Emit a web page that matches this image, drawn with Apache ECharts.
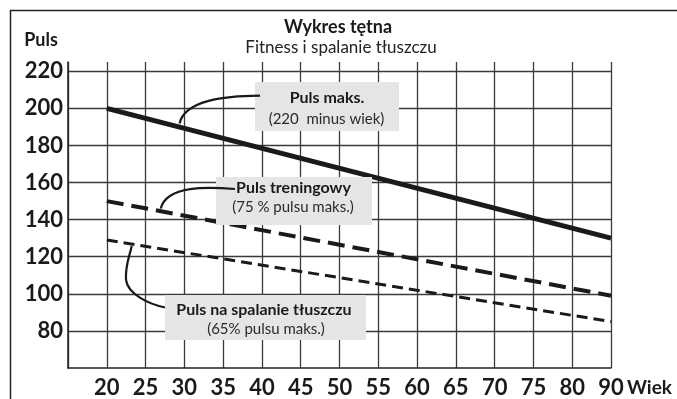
<!DOCTYPE html>
<html>
<head>
<meta charset="utf-8">
<title>Wykres tętna</title>
<script src="https://cdn.jsdelivr.net/npm/echarts@6/dist/echarts.min.js"></script>
<style>
  html, body { margin: 0; padding: 0; background: #ffffff; }
  #chart { width: 677px; height: 399px; }
</style>
</head>
<body>
<div id="chart"></div>
<script>
// Age categories along the x axis (first slot is the empty left edge of the grid)
const ages = ['', '20', '25', '30', '35', '40', '45', '50', '55', '60', '65', '70', '75', '80', '90'];

// Heart rate lines: only the end points are known, the lines run straight between them
const maxPulse      = [null, 200, null, null, null, null, null, null, null, null, null, null, null, null, 130];
const trainingPulse = [null, 150, null, null, null, null, null, null, null, null, null, null, null, null, 99];
const fatBurnPulse  = [null, 129, null, null, null, null, null, null, null, null, null, null, null, null, 85];

// Pulse axis tick values
const pulseMin = 60;
const pulseMax = 225;
const pulseStep = 20;

const FONT = 'Lato';
const INK = '#1a1a1a';
const BOX = '#e5e5e7';

const chart = echarts.init(document.getElementById('chart'), null, { renderer: 'canvas' });

function boxText(x, y, text, bold, size) {
  return {
    type: 'text', x: x, y: y, z: 20,
    style: {
      text: text, fill: bold ? INK : '#2a2a2a',
      font: (bold ? 'bold ' : '') + size + 'px ' + FONT,
      align: 'center', verticalAlign: 'middle'
    }
  };
}
function leader(x1, y1, cx1, cy1, cx2, cy2, x2, y2) {
  return {
    type: 'bezierCurve', z: 18,
    shape: { x1: x1, y1: y1, cpx1: cx1, cpy1: cy1, cpx2: cx2, cpy2: cy2, x2: x2, y2: y2 },
    style: { stroke: INK, lineWidth: 2.2, fill: null }
  };
}

const option = {
  backgroundColor: '#ffffff',
  animation: false,
  grid: { left: 68, right: 66, top: 62, bottom: 29, containLabel: false },
  xAxis: {
    type: 'category',
    data: ages,
    boundaryGap: false,
    axisLine: { show: true, lineStyle: { color: '#222', width: 1.5 } },
    axisTick: { show: false },
    axisLabel: {
      interval: 0, margin: 9,
      color: INK, fontFamily: FONT, fontWeight: 'bold', fontSize: 22
    },
    splitLine: { show: true, interval: 0, lineStyle: { color: '#3a3a3a', width: 1.3 } }
  },
  yAxis: {
    type: 'value',
    min: pulseMin, max: pulseMax, interval: pulseStep,
    axisLine: { show: true, lineStyle: { color: '#222', width: 1.5 } },
    axisTick: { show: false },
    axisLabel: {
      margin: 5, showMinLabel: false, showMaxLabel: false,
      color: INK, fontFamily: FONT, fontWeight: 'bold', fontSize: 22
    },
    splitLine: {
      show: true, showMinLine: false, showMaxLine: false,
      lineStyle: { color: '#3a3a3a', width: 1.3 }
    }
  },
  series: [
    {
      name: 'Puls maks.', type: 'line', data: maxPulse, connectNulls: true,
      showSymbol: false, symbol: 'none', z: 5,
      lineStyle: { color: INK, width: 5, cap: 'butt' }
    },
    {
      name: 'Puls treningowy', type: 'line', data: trainingPulse, connectNulls: true,
      showSymbol: false, symbol: 'none', z: 5,
      lineStyle: { color: INK, width: 4, type: [17, 8], cap: 'butt' }
    },
    {
      name: 'Puls na spalanie tłuszczu', type: 'line', data: fatBurnPulse, connectNulls: true,
      showSymbol: false, symbol: 'none', z: 5,
      lineStyle: { color: INK, width: 3, type: [11, 6], cap: 'butt' }
    }
  ],
  graphic: [
    // outer frame
    {
      type: 'polyline', z: 1,
      shape: { points: [[10.5, 402], [10.5, 10.5], [680, 10.5]] },
      style: { stroke: '#222', lineWidth: 1.5, fill: null }
    },
    // titles
    {
      type: 'text', x: 338, y: 27, z: 20,
      style: { text: 'Wykres tętna', fill: INK, font: 'bold 18px ' + FONT, align: 'center', verticalAlign: 'middle' }
    },
    {
      type: 'text', x: 341, y: 48, z: 20,
      style: { text: 'Fitness i spalanie tłuszczu', fill: '#222', font: '17px ' + FONT, align: 'center', verticalAlign: 'middle' }
    },
    {
      type: 'text', x: 41, y: 40, z: 20,
      style: { text: 'Puls', fill: INK, font: 'bold 18px ' + FONT, align: 'center', verticalAlign: 'middle' }
    },
    {
      type: 'text', x: 627, y: 388, z: 20,
      style: { text: 'Wiek', fill: INK, font: 'bold 19px ' + FONT, align: 'left', verticalAlign: 'middle' }
    },

    // Puls maks. callout
    { type: 'rect', z: 15, shape: { x: 255, y: 82, width: 144, height: 49 }, style: { fill: BOX } },
    boxText(327, 97.5, 'Puls maks.', true, 16),
    boxText(326.5, 119.5, '(220  minus wiek)', false, 15),
    leader(260, 95.7, 225, 96, 185, 100, 179.5, 123.5),

    // Puls treningowy callout
    { type: 'rect', z: 15, shape: { x: 216, y: 177, width: 156, height: 48 }, style: { fill: BOX } },
    boxText(293.5, 187.5, 'Puls treningowy', true, 16),
    boxText(293, 207.5, '(75 % pulsu maks.)', false, 15),
    leader(235, 189, 208, 187, 167, 185, 160.7, 208.5),

    // Puls na spalanie tłuszczu callout
    { type: 'rect', z: 15, shape: { x: 165, y: 295, width: 201, height: 45 }, style: { fill: BOX } },
    boxText(264, 310, 'Puls na spalanie tłuszczu', true, 16),
    boxText(266, 329.5, '(65% pulsu maks.)', false, 15),
    leader(165, 307.5, 148, 304, 128, 294, 126, 280),
    leader(126, 280, 125, 265, 130, 255, 131.7, 246)
  ]
};

chart.setOption(option);
</script>
</body>
</html>
